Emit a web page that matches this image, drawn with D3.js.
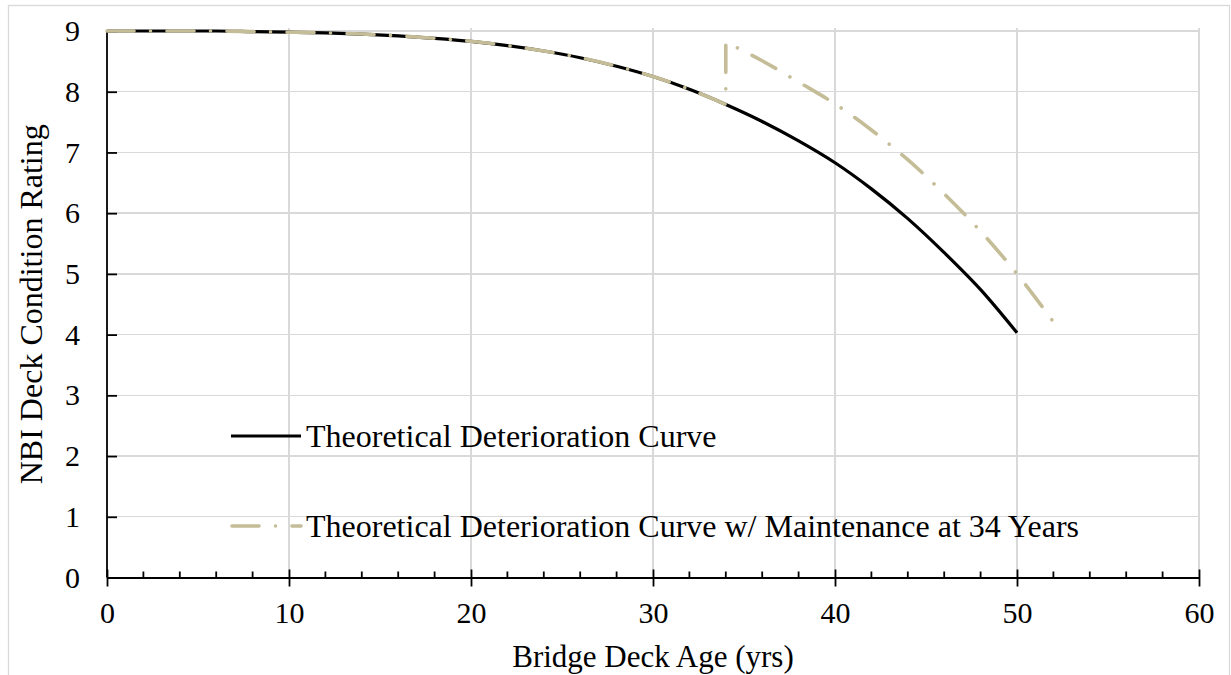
<!DOCTYPE html>
<meta charset="utf-8">
<style>
    body { margin: 0; background: #fff; }
    svg { font-family: "Liberation Serif", "Times New Roman", serif; }
    .grid line { stroke: #d9d9d9; stroke-width: 1.4; shape-rendering: crispEdges; }
    .axis path, .axis line { stroke: #000; stroke-width: 1.8; fill: none; }
    .axis text { font-size: 30px; fill: #000; font-family: "Liberation Serif", "Times New Roman", serif; }
</style>
<body>
<script src="https://d3js.org/d3.v7.min.js"></script>
<script>
    // black curve, one point every 2 years
    const ages = [0, 2, 4, 6, 8, 10, 12, 14, 16, 18, 20, 22, 24, 26, 28, 30, 32, 34, 36, 38, 40, 42, 44, 46, 48, 50];
    const rating = [9.0, 9.0, 9.0, 9.0, 8.99, 8.98, 8.97, 8.95, 8.92, 8.88, 8.83, 8.76, 8.67, 8.56, 8.42, 8.25, 8.04, 7.79,
        7.51, 7.19, 6.83, 6.40, 5.91, 5.35, 4.74, 4.03];

    // maintained curve after the jump at 34 years
    const maintAges = [34, 36, 38, 40, 42, 44, 46, 48, 50, 52];
    const maintRating = [8.82, 8.51, 8.16, 7.80, 7.37, 6.88, 6.32, 5.70, 5.00, 4.21];
    const maintYear = 34;

    const xTicks = [0, 10, 20, 30, 40, 50, 60];
    const xMinor = d3.range(0, 61, 2);
    const yTicks = [0, 1, 2, 3, 4, 5, 6, 7, 8, 9];

    const legendNames = ["Theoretical Deterioration Curve",
        "Theoretical Deterioration Curve w/ Maintenance at 34 Years"];

    const width = 1231, height = 675;
    const gold = "#c4bd97";
    const dash = "27,16.5,0.01,16.5";

    const svg = d3.select("body").append("svg")
        .attr("width", width)
        .attr("height", height);

    // chart area border
    svg.append("rect")
        .attr("x", 8.5).attr("y", 5.5)
        .attr("width", 1221).attr("height", 720)
        .attr("fill", "none")
        .attr("stroke", "#d9d9d9")
        .attr("stroke-width", 1.3);

    const x = d3.scaleLinear().domain([0, 60]).range([107, 1199]);
    const y = d3.scaleLinear().domain([0, 9]).range([577.5, 31]);

    // gridlines
    const grid = svg.append("g").attr("class", "grid");
    grid.selectAll(".h").data(yTicks.slice(1)).enter().append("line")
        .attr("x1", x(0)).attr("x2", x(60))
        .attr("y1", d => y(d)).attr("y2", d => y(d));
    grid.selectAll(".v").data(xTicks.slice(1)).enter().append("line")
        .attr("x1", d => x(d)).attr("x2", d => x(d))
        .attr("y1", y(9) - 3).attr("y2", y(0));

    // x axis
    const xAxis = svg.append("g")
        .attr("class", "axis")
        .attr("transform", "translate(0," + y(0) + ")")
        .call(d3.axisBottom(x).tickValues(xTicks).tickSize(9).tickPadding(20).tickSizeOuter(0));
    xAxis.selectAll(".tick line").attr("y1", -8);
    xAxis.selectAll(".tick text").attr("dy", "0.55em");
    xAxis.selectAll(".minor").data(xMinor.filter(d => d % 10 !== 0)).enter().append("line")
        .attr("x1", d => x(d)).attr("x2", d => x(d))
        .attr("y1", -6).attr("y2", 0);

    // y axis
    const yAxis = svg.append("g")
        .attr("class", "axis")
        .attr("transform", "translate(" + x(0) + ",0)")
        .call(d3.axisLeft(y).tickValues(yTicks).tickSize(10).tickPadding(17).tickSizeOuter(0));
    yAxis.selectAll(".tick line").attr("x2", 10);
    yAxis.select(".domain").attr("d", "M0," + y(0) + "V" + y(9));

    // axis titles
    svg.append("text")
        .attr("x", (x(0) + x(60)) / 2)
        .attr("y", 667)
        .attr("text-anchor", "middle")
        .style("font-size", "31px")
        .text("Bridge Deck Age (yrs)");

    svg.append("text")
        .attr("transform", "translate(42," + (y(4.5)) + ") rotate(-90)")
        .attr("text-anchor", "middle")
        .style("font-size", "32px")
        .text("NBI Deck Condition Rating");

    // lines
    const line = d3.line()
        .x(d => x(d[0]))
        .y(d => y(d[1]))
        .curve(d3.curveMonotoneX);

    const base = ages.map((a, i) => [a, rating[i]]);
    svg.append("path")
        .attr("d", line(base))
        .attr("fill", "none")
        .attr("stroke", "#000")
        .attr("stroke-width", 3.2);

    // maintained curve: same as base until maintYear, then jumps up
    const before = base.filter(d => d[0] <= maintYear);
    const after = maintAges.map((a, i) => [a, maintRating[i]]);
    svg.append("path")
        .attr("d", line(before) + line(after).replace(/^M/, "L"))
        .attr("fill", "none")
        .attr("stroke", gold)
        .attr("stroke-width", 3.6)
        .attr("stroke-linecap", "round")
        .attr("stroke-dasharray", dash);

    // legend
    const legend = svg.selectAll(".legend")
        .data(legendNames)
        .enter().append("g")
        .attr("class", "legend")
        .attr("transform", (d, i) => "translate(0," + (436 + i * 90) + ")");

    legend.append("line")
        .attr("x1", (d, i) => i ? 232 : 231).attr("x2", 301)
        .attr("stroke", (d, i) => i ? gold : "#000")
        .attr("stroke-width", (d, i) => i ? 3.6 : 3.2)
        .attr("stroke-linecap", (d, i) => i ? "round" : "butt")
        .attr("stroke-dasharray", (d, i) => i ? dash : null);

    legend.append("text")
        .attr("x", 306)
        .attr("y", 10.5)
        .style("font-size", "32px")
        .text(d => d);
</script>
</body>
